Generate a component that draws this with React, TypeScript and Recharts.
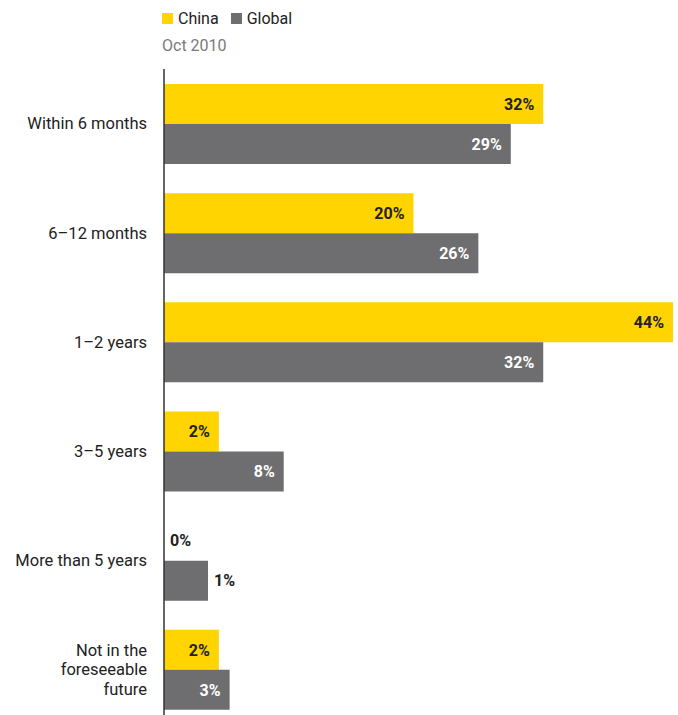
import React from "react";
import { Bar, BarChart, XAxis, YAxis, LabelList } from "recharts";

const categories = [
  "Within 6 months",
  "6–12 months",
  "1–2 years",
  "3–5 years",
  "More than 5 years",
  "Not in the\nforeseeable\nfuture",
];
const china = [32, 20, 44, 2, 0, 2];
const global = [29, 26, 32, 8, 1, 3];
const seriesNames = ["China", "Global"];
const subtitle = "Oct 2010";

// bars in the original carry a fixed stub before the value starts
const STUB = -3.07;
const MAX = 44;

const YELLOW = "#FFD400";
const GREY = "#6E6E70";
const FONT = "Roboto, sans-serif";

const toRange = (v: number) => (v > 0 ? [STUB, v] : [STUB, STUB + 0.0005]);

const data = categories.map((name, i) => ({
  name,
  china: china[i],
  global: global[i],
  chinaBar: toRange(china[i]),
  globalBar: toRange(global[i]),
}));

const CategoryTick = (props: any) => {
  const { x, y, payload } = props;
  const lines = String(payload.value).split("\n");
  const lh = 19.5;
  const start = y - ((lines.length - 1) * lh) / 2;
  return (
    <text x={x} y={start} textAnchor="end" fontFamily={FONT} fontSize={16.5} fill="#222">
      {lines.map((l, i) => (
        <tspan key={i} x={x} y={start + i * lh} dy="0.35em">
          {l}
        </tspan>
      ))}
    </text>
  );
};

const barLabel = (insideColor: string) => (props: any) => {
  const vb = props.viewBox ?? props;
  const { x, y, width, height } = vb;
  const inside = width > 50;
  const tx = inside ? x + width - 9 : x + width + 6;
  return (
    <text
      x={tx}
      y={y + height / 2}
      dy="0.36em"
      textAnchor={inside ? "end" : "start"}
      fontFamily={FONT}
      fontWeight={700}
      fontSize={16}
      fill={inside ? insideColor : "#222"}
    >
      {props.value}%
    </text>
  );
};

const LegendBox = () => (
  <div style={{ position: "absolute", left: 162, top: 9, fontFamily: FONT }}>
    <div style={{ display: "flex", alignItems: "center", fontSize: 16, color: "#222" }}>
      <span style={{ width: 11, height: 11, background: YELLOW, marginRight: 5 }} />
      <span style={{ marginRight: 12 }}>{seriesNames[0]}</span>
      <span style={{ width: 11, height: 11, background: GREY, marginRight: 5 }} />
      <span>{seriesNames[1]}</span>
    </div>
    <div style={{ fontSize: 16, color: "#7a7a7a", marginTop: 8 }}>{subtitle}</div>
  </div>
);

export default function App() {
  return (
    <div
      style={{
        position: "absolute",
        left: 0,
        top: 0,
        width: 678,
        height: 715,
        overflow: "hidden",
        background: "#fff",
      }}
    >
      <BarChart
        width={678}
        height={730}
        data={data}
        layout="vertical"
        barGap={0}
        margin={{ top: 69, right: 5, bottom: 6, left: 0 }}
      >
        <XAxis type="number" domain={[STUB, MAX]} hide allowDataOverflow />
        <YAxis
          type="category"
          dataKey="name"
          width={164}
          axisLine={{ stroke: "#333", strokeWidth: 1.5 }}
          tickLine={false}
          tickSize={0}
          tickMargin={17}
          tick={<CategoryTick />}
          interval={0}
        />
        <Bar dataKey="chinaBar" name="China" fill={YELLOW} barSize={40} isAnimationActive={false}>
          <LabelList dataKey="china" content={barLabel("#222")} />
        </Bar>
        <Bar dataKey="globalBar" name="Global" fill={GREY} barSize={40} isAnimationActive={false}>
          <LabelList dataKey="global" content={barLabel("#fff")} />
        </Bar>
      </BarChart>
      <LegendBox />
    </div>
  );
}
